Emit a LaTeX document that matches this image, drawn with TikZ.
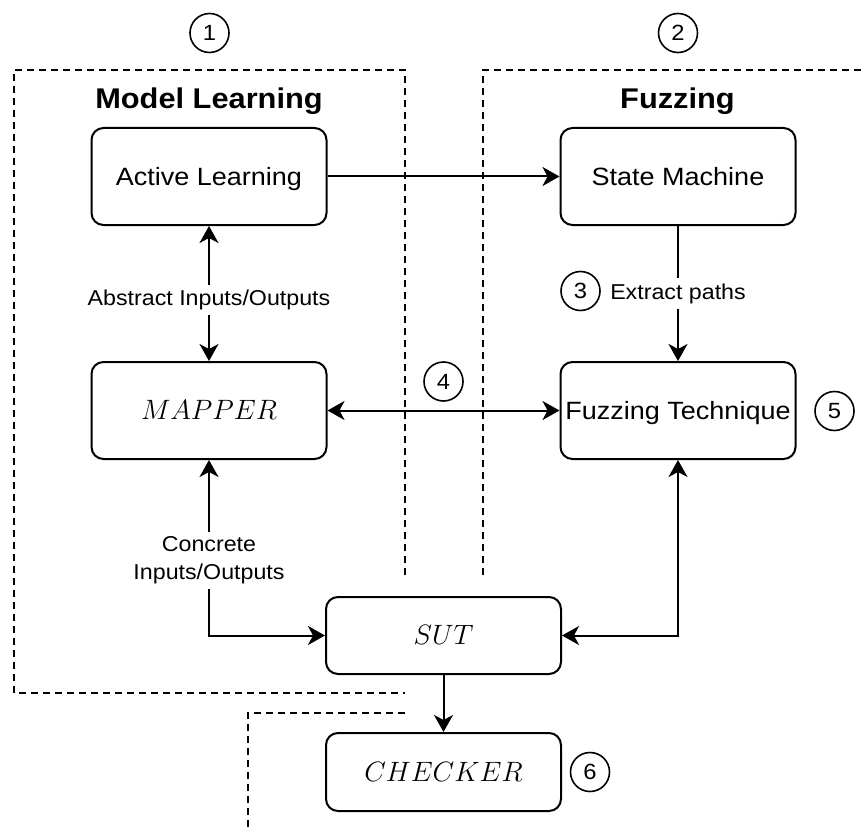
\RequirePackage{fix-cm}
\documentclass[tikz,border=0pt]{standalone}
\usepackage{fontspec}
\setmainfont{Liberation Sans}[FakeStretch=1.08]
\usetikzlibrary{arrows.meta}
\begin{document}
\begin{tikzpicture}[x=1pt,y=-1pt,
  box/.style={draw, line width=2pt, rounded corners=12pt, minimum width=235pt, minimum height=97pt, inner sep=0pt, text height=18pt, text depth=0pt, font=\fontsize{25}{30}\selectfont},
  mbox/.style={box, font=\fontsize{28}{34}\selectfont},
  num/.style={draw, circle, line width=1.6pt, minimum size=39pt, inner sep=0pt, font=\fontsize{22}{26}\selectfont},
  titletext/.style={anchor=base, font=\fontsize{28.5}{34}\selectfont\bfseries},
  lbl/.style={fill=white, inner sep=5pt, font=\fontsize{21.5}{28}\selectfont, align=center},
  conn/.style={line width=2pt},
  frame/.style={line width=2pt, dash pattern=on 7pt off 5pt},
  >={Stealth[length=17pt,width=19pt,inset=5pt]}
]
\fill[white] (0,0) rectangle (864,829);
\useasboundingbox (0,0) rectangle (864,829);

% frames
\draw[frame] (405,575) -- (405,70) -- (14,70) -- (14,693) -- (405,693);
\draw[frame] (483,575) -- (483,70) -- (864,70);
\draw[frame] (405,713) -- (248,713) -- (248,829);

% titles
\node[titletext] (tml) at (209,109) {Model Learning};
\node[titletext] (tfz) at (677.5,109) {Fuzzing};

% boxes
\node[box] (al) at (209,176.5) {Active Learning};
\node[box] (sm) at (678,176.5) {State Machine};
\node[mbox] (map) at (209,410.5) {$MAPPER$};
\node[box] (ft) at (678,410.5) {Fuzzing Technique};
\node[mbox, minimum height=77pt] (sut) at (443.5,635.5) {$SUT$};
\node[mbox, minimum height=78pt] (chk) at (443.5,772) {$CHECKER$};

% numbers
\node[num] (n1) at (209.5,33) {1};
\node[num] (n2) at (678,33) {2};
\node[num] (n3) at (580.5,291) {3};
\node[num] (n4) at (443.5,381.5) {4};
\node[num] (n5) at (834.5,411) {5};
\node[num] (n6) at (590,772) {6};

% connectors
\draw[conn,->] (al) -- (sm);
\draw[conn,<->] (al) -- node[lbl,pos=0.55]{Abstract Inputs/Outputs} (map);
\draw[conn,->] (sm) -- node[lbl]{Extract paths} (ft);
\draw[conn,<->] (map) -- (ft);
\draw[conn,<->] (map.south) |- node[lbl,pos=0.286]{Concrete\\Inputs/Outputs} (sut.west);
\draw[conn,<->] (ft.south) |- (sut.east);
\draw[conn,->] (sut) -- (chk);
\end{tikzpicture}
\end{document}
